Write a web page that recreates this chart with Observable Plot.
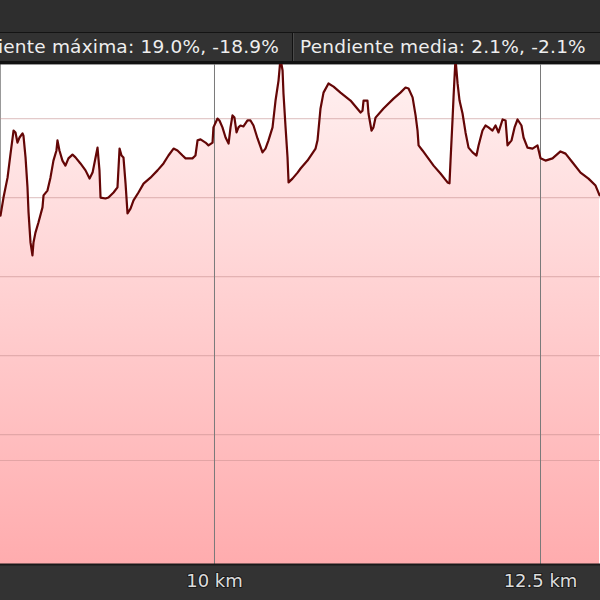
<!DOCTYPE html>
<html>
<head>
<meta charset="utf-8">
<script src="https://cdn.jsdelivr.net/npm/d3@7"></script>
<script src="https://cdn.jsdelivr.net/npm/@observablehq/plot@0.6"></script>
<style>
  html, body { margin: 0; padding: 0; background: #333; }
  #wrap { width: 600px; height: 600px; overflow: hidden; position: relative; background: #333; }
  #topbar { height: 32px; background: #2e2e2e; border-bottom: 1px solid #141414; }
  #stats { position: relative; height: 28px; background: #323232; border-bottom: 3px solid #121212; overflow: hidden; }
  .stat { position: absolute; top: 3px; white-space: nowrap; font-family: "DejaVu Sans", sans-serif; font-size: 18.5px; letter-spacing: 0.2px; line-height: 22px; color: #eeeeee; }
  #sep { position: absolute; left: 292px; top: 0; width: 1px; height: 28px; background: #111; box-shadow: 1px 0 0 #4a4a4a; }
</style>
</head>
<body>
<div id="wrap">
  <div id="topbar"></div>
  <div id="stats">
    <span class="stat" id="s1"></span>
    <div id="sep"></div>
    <span class="stat" id="s2"></span>
  </div>
  <div id="chart"></div>
</div>
<script>
const statLabels = ["Pendiente máxima: 19.0%, -18.9%", "Pendiente media: 2.1%, -2.1%"];
const km = [8.359,8.382,8.413,8.436,8.459,8.474,8.489,8.505,8.528,8.535,8.551,8.566,8.574,8.589,8.604,8.612,8.627,8.650,8.681,8.689,8.719,8.742,8.765,8.788,8.796,8.811,8.834,8.857,8.880,8.911,8.934,8.972,9.011,9.042,9.065,9.088,9.103,9.118,9.126,9.164,9.187,9.226,9.256,9.272,9.287,9.302,9.318,9.333,9.356,9.379,9.417,9.456,9.509,9.563,9.609,9.647,9.686,9.716,9.755,9.778,9.831,9.854,9.870,9.893,9.931,9.954,9.985,9.992,10.023,10.038,10.061,10.085,10.108,10.123,10.138,10.153,10.169,10.184,10.199,10.222,10.253,10.276,10.299,10.330,10.368,10.391,10.414,10.445,10.468,10.491,10.506,10.522,10.529,10.545,10.560,10.568,10.598,10.637,10.660,10.713,10.775,10.790,10.813,10.836,10.874,10.913,10.966,11.043,11.120,11.135,11.143,11.173,11.181,11.204,11.219,11.235,11.296,11.373,11.426,11.465,11.488,11.519,11.542,11.557,11.565,11.595,11.634,11.680,11.733,11.787,11.802,11.810,11.825,11.833,11.848,11.864,11.879,11.902,11.925,11.948,11.979,12.009,12.025,12.055,12.078,12.101,12.132,12.155,12.178,12.209,12.232,12.247,12.278,12.301,12.324,12.354,12.370,12.400,12.439,12.477,12.500,12.538,12.592,12.653,12.692,12.746,12.807,12.868,12.922,12.953];
const elev = [169.3,175.0,181.3,188.9,196.2,195.6,192.4,194.0,195.3,194.6,187.7,178.2,170.3,160.8,156.7,160.8,163.9,167.1,171.9,175.7,177.2,181.3,186.7,189.9,193.1,189.9,186.7,185.1,187.4,188.6,187.7,185.8,183.6,181.0,182.9,187.7,190.8,183.6,175.0,174.7,175.0,176.6,178.2,190.5,188.3,187.7,179.4,170.0,171.5,174.1,176.6,179.4,181.3,183.6,185.8,188.3,190.5,189.9,188.3,187.4,187.4,188.3,193.1,193.4,192.4,191.5,192.4,197.2,200.0,199.4,197.2,194.0,192.1,197.2,201.0,200.3,195.6,197.2,197.8,197.5,199.4,199.4,197.8,193.7,189.3,190.5,193.1,197.2,205.7,212.0,219.0,215.2,207.9,197.2,187.7,179.8,181.0,182.9,184.2,186.7,190.5,193.1,203.2,208.2,211.1,210.1,208.2,205.7,201.9,202.5,205.7,205.7,201.6,196.2,197.2,200.3,203.2,206.3,208.2,209.8,209.5,206.7,201.0,196.2,191.5,189.9,187.7,185.1,182.6,179.8,179.5,186.7,199.4,206.7,219.0,211.1,205.7,201.6,195.6,190.8,189.3,188.3,191.5,196.2,197.8,197.2,196.2,197.8,195.6,199.7,199.4,191.5,193.1,197.2,199.7,197.8,194.0,190.8,190.5,191.5,187.4,186.7,187.4,189.6,188.9,186.1,182.9,181.0,178.8,175.7];
const xTicks = [10, 12.5];
const gridElev = [100, 125, 150, 175, 200, 91.8];
const xDomain = [8.359, 12.960];
const yDomain = [58.9, 217.1];

const s1 = document.getElementById("s1");
s1.textContent = statLabels[0];
s1.style.right = (600 - 279) + "px";
const s2 = document.getElementById("s2");
s2.textContent = statLabels[1];
s2.style.left = "300px";

const data = km.slice(0, Math.min(km.length, elev.length)).map((k, i) => ({km: k, elev: elev[i]}));

const svg = Plot.plot({
  width: 600,
  height: 536,
  marginTop: 0,
  marginBottom: 36,
  marginLeft: 0,
  marginRight: 0,
  style: {background: "#333", fontFamily: "DejaVu Sans, sans-serif", overflow: "hidden"},
  x: {domain: xDomain},
  y: {domain: yDomain, axis: null},
  marks: [
    Plot.frame({fill: "white", stroke: null}),
    Plot.areaY(data, {x: "km", y1: yDomain[0], y2: "elev", fill: "url(#elevGrad)", clip: true}),
    Plot.ruleY(gridElev, {stroke: "#c08a8a", strokeOpacity: 0.45, strokeWidth: 1.2}),
    Plot.ruleX(xTicks, {stroke: "#7a7a7a", strokeWidth: 1}),
    Plot.lineY(data, {x: "km", y: "elev", stroke: "#640606", strokeWidth: 2.2, clip: true}),
    Plot.ruleY([yDomain[0]], {stroke: "#1a1a1a", strokeWidth: 2}),
    Plot.axisX({ticks: xTicks, tickFormat: d => `${d} km`, tickSize: 0, tickPadding: 10, fontSize: 18, color: "#dddddd", textStroke: "#1c1c1c", textStrokeWidth: 2, label: null})
  ]
});

const defs = d3.select(svg).insert("defs", ":first-child");
const grad = defs.append("linearGradient")
  .attr("id", "elevGrad")
  .attr("gradientUnits", "userSpaceOnUse")
  .attr("x1", 0).attr("x2", 0).attr("y1", 0).attr("y2", 500);
grad.append("stop").attr("offset", "0%").attr("stop-color", "#fff1f1");
grad.append("stop").attr("offset", "100%").attr("stop-color", "#ffacae");

document.getElementById("chart").appendChild(svg);
</script>
</body>
</html>
